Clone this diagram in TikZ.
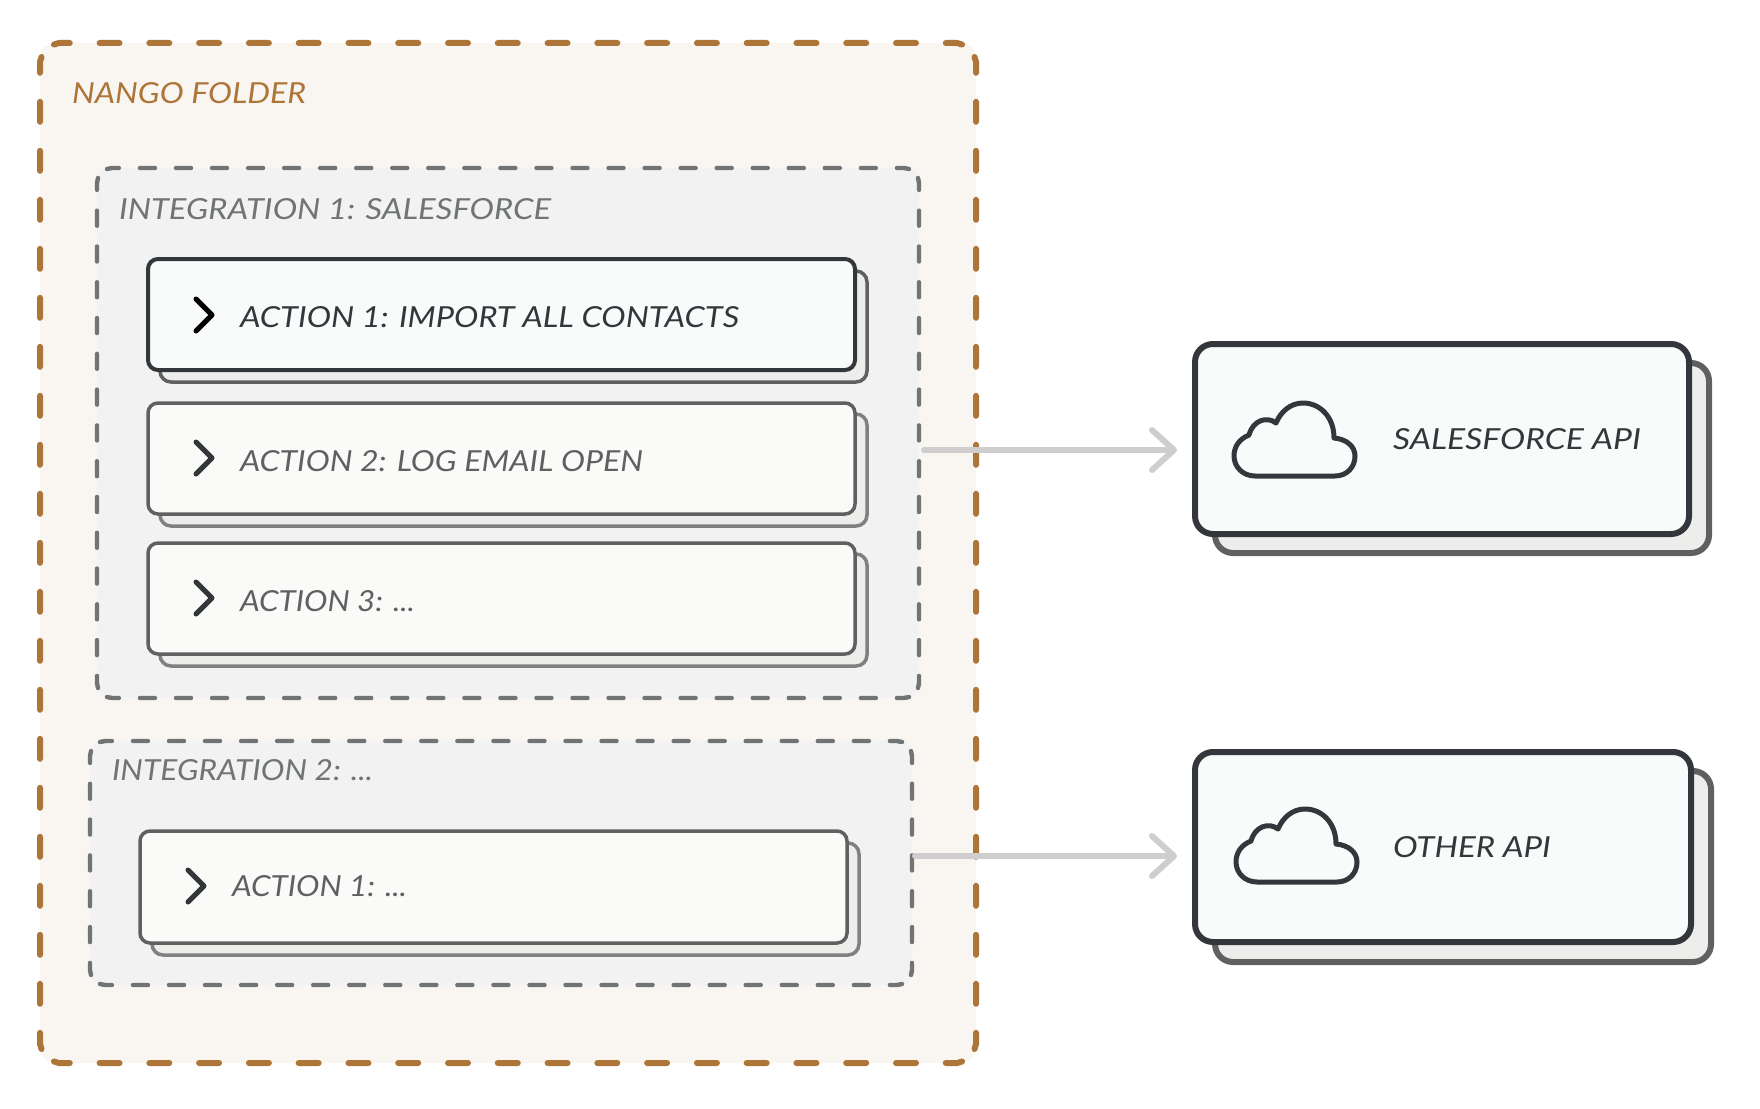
\documentclass[tikz,border=0pt]{standalone}
\usepackage{fontspec}
\usepackage{graphicx}
\setmainfont{Lato}
\usetikzlibrary{arrows.meta}
\definecolor{outerfill}{HTML}{F9F6F2}
\definecolor{brownc}{HTML}{AD7537}
\definecolor{intfill}{HTML}{F2F2F2}
\definecolor{intline}{HTML}{707474}
\definecolor{boxfill}{HTML}{FAFAF8}
\definecolor{activefill}{HTML}{F9FBFA}
\definecolor{darkc}{HTML}{33363A}
\definecolor{midc}{HTML}{5F6060}
\definecolor{backline}{HTML}{7F8080}
\definecolor{backfill}{HTML}{EDEDEC}
\definecolor{arrowc}{HTML}{CFCDCD}
\newcommand{\lbltext}[3]{\resizebox{#1pt}{#2pt}{\itshape #3}}
\tikzset{
  x=1pt,y=-1pt,
  outerbox/.style={fill=outerfill,rounded corners=15pt},
  intbox/.style={fill=intfill,rounded corners=12pt},
  outerdash/.style={draw=brownc,line width=6pt,line cap=round},
  intdash/.style={draw=intline,line width=4.4pt,line cap=round},
  actback/.style={draw=backline,fill=backfill,line width=3.5pt,rounded corners=11pt},
  actfront/.style={draw=midc,fill=boxfill,line width=3.5pt,rounded corners=10pt},
  actbackone/.style={draw=midc,fill=backfill,line width=3.5pt,rounded corners=11pt},
  actfrontone/.style={draw=darkc,fill=activefill,line width=4pt,rounded corners=10pt},
  apiback/.style={draw=midc,fill=backfill,line width=6pt,rounded corners=18pt},
  apifront/.style={draw=darkc,fill=activefill,line width=6pt,rounded corners=18pt},
  lbl/.style={anchor=base west,inner sep=0pt,outer sep=0pt},
  chev/.style={line width=5pt,line cap=round,line join=round},
  flow/.style={draw=arrowc,line width=6pt,line cap=round,-{Straight Barb[length=22pt,width=40pt,line width=6pt,round]}},
  cloudline/.style={draw=darkc,line width=5pt,line join=round},
}
\newcommand{\cloudat}[2]{%
  \draw[cloudline,shift={(#1,#2)}] (22,74) -- (102,74) .. controls (114,74) and (122,65) .. (122,54)
   .. controls (122,44) and (113,37) .. (101,36) .. controls (101,15) and (87,1) .. (70,1)
   .. controls (58,1) and (48,9) .. (43,21) .. controls (34,14) and (20,18) .. (16,33)
   .. controls (6,37) and (1,45) .. (1,54) .. controls (1,65) and (10,74) .. (22,74) -- cycle;}
% name, style, x0, y0, x1, y1
\newcommand{\bx}[6]{%
  \pgfmathsetmacro{\bxw}{#5-#3}\pgfmathsetmacro{\bxh}{#6-#4}%
  \node[#2,rectangle,inner sep=0pt,outer sep=0pt,minimum width=\bxw pt,minimum height=\bxh pt]
    (#1) at ({(#3+#5)/2},{(#4+#6)/2}) {};}
% style, x0, y0, x1, y1, dash start s, path start a, dash length d, nH, nV, phase
\newcommand{\dashrect}[9]{\dashrectb{#1}{#2}{#3}{#4}{#5}{#6}{#7}{#8}{#9}}
\newcommand{\dashrectb}[9]{\def\drS{#1}\def\drA{#2}\def\drB{#3}\def\drC{#4}\def\drD{#5}\def\drs{#6}\def\dra{#7}\def\drd{#8}\def\drnH{#9}\dashrectc}
\newcommand{\dashrectc}[2]{%
  \pgfmathsetmacro{\offH}{(\drC-\drA-2*\drs-\drd)/\drnH-\drd}%
  \pgfmathsetmacro{\offV}{(\drD-\drB-2*\drs-\drd)/#1-\drd}%
  \pgfmathsetmacro{\ph}{\dra-\drs}%
  \pgfmathsetmacro{\kk}{#2}%
  \pgfmathsetmacro{\Lx}{\drA+\dra}\pgfmathsetmacro{\Rx}{\drC-\dra}%
  \pgfmathsetmacro{\Ty}{\drB+\dra}\pgfmathsetmacro{\By}{\drD-\dra}%
  \draw[\drS,dash pattern=on \drd pt off \offH pt,dash phase=\ph pt]
    (\Lx,\drB+\kk) .. controls (\Lx+2,\drB) .. (\Lx+5,\drB) -- (\Rx-5,\drB) .. controls (\Rx-2,\drB) .. (\Rx,\drB+\kk);
  \draw[\drS,dash pattern=on \drd pt off \offH pt,dash phase=\ph pt]
    (\Lx,\drD-\kk) .. controls (\Lx+2,\drD) .. (\Lx+5,\drD) -- (\Rx-5,\drD) .. controls (\Rx-2,\drD) .. (\Rx,\drD-\kk);
  \draw[\drS,dash pattern=on \drd pt off \offV pt,dash phase=\ph pt]
    (\drA+\kk,\Ty) .. controls (\drA,\Ty+2) .. (\drA,\Ty+5) -- (\drA,\By-5) .. controls (\drA,\By-2) .. (\drA+\kk,\By);
  \draw[\drS,dash pattern=on \drd pt off \offV pt,dash phase=\ph pt]
    (\drC-\kk,\Ty) .. controls (\drC,\Ty+2) .. (\drC,\Ty+5) -- (\drC,\By-5) .. controls (\drC,\By-2) .. (\drC-\kk,\By);
}
\begin{document}
\begin{tikzpicture}
\useasboundingbox (0,0) rectangle (1760,1108);
\fill[white] (0,0) rectangle (1760,1108);
\bx{folder}{outerbox}{40}{43}{976}{1063}
\dashrect{outerdash}{40}{43}{976}{1063}{10}{14}{20}{18}{20}{1.5}
\bx{int1}{intbox}{97}{168}{919}{698}
\dashrect{intdash}{97}{168}{919}{698}{7}{10}{15}{22}{14}{1}
\bx{a1b}{actbackone}{160}{271}{867}{382}
\bx{a1}{actfrontone}{148}{259}{855}{370}
\bx{a2b}{actback}{160}{414}{867}{526}
\bx{a2}{actfront}{148}{403}{855}{514}
\bx{a3b}{actback}{160}{554}{867}{666}
\bx{a3}{actfront}{148}{543}{855}{654}
\bx{int2}{intbox}{90}{741}{912}{985}
\dashrect{intdash}{90}{741}{912}{985}{7}{10}{15}{22}{6}{1}
\bx{a4b}{actback}{152}{843}{859}{955}
\bx{a4}{actfront}{140}{831}{847}{943}
\bx{api1b}{apiback}{1215}{363}{1709}{553}
\bx{api1}{apifront}{1195}{344}{1689}{534}
\bx{api2b}{apiback}{1215}{771}{1711}{962}
\bx{api2}{apifront}{1195}{752}{1691}{942}
\draw[chev,draw=black] (196,299) -- (212,315) -- (196,331);
\draw[chev,draw=darkc] (196,442) -- (212,458) -- (196,474);
\draw[chev,draw=darkc] (196,582) -- (212,598) -- (196,614);
\draw[chev,draw=darkc] (188,870) -- (204,886) -- (188,902);
\cloudat{1233}{402}
\cloudat{1235}{808}
\node[lbl,text=brownc] (t0) at (72,103) {\lbltext{234}{21}{NANGO FOLDER}};
\node[lbl,text=intline] (t1) at (119,219) {\lbltext{432}{21}{INTEGRATION 1: SALESFORCE}};
\node[lbl,text=darkc] (t2) at (240,327) {\lbltext{499}{21}{ACTION 1: IMPORT ALL CONTACTS}};
\node[lbl,text=midc] (t3) at (240,471) {\lbltext{403}{21}{ACTION 2: LOG EMAIL OPEN}};
\node[lbl,text=midc] (t4) at (240,611) {\lbltext{175}{21}{ACTION 3: ...}};
\node[lbl,text=intline] (t5) at (112,780) {\lbltext{261}{21}{INTEGRATION 2: ...}};
\node[lbl,text=midc] (t6) at (232,896) {\lbltext{175}{21}{ACTION 1: ...}};
\node[lbl,text=darkc] (t7) at (1393,449) {\lbltext{248}{21}{SALESFORCE API}};
\node[lbl,text=darkc] (t8) at (1393,857) {\lbltext{158}{21}{OTHER API}};
\draw[flow] ([xshift=5,yshift=-17]int1.east) -- ([xshift=-18,yshift=-11]api1.west);
\draw[flow] ([xshift=3,yshift=7]int2.east) -- ([xshift=-18,yshift=-9]api2.west);
\end{tikzpicture}
\end{document}
